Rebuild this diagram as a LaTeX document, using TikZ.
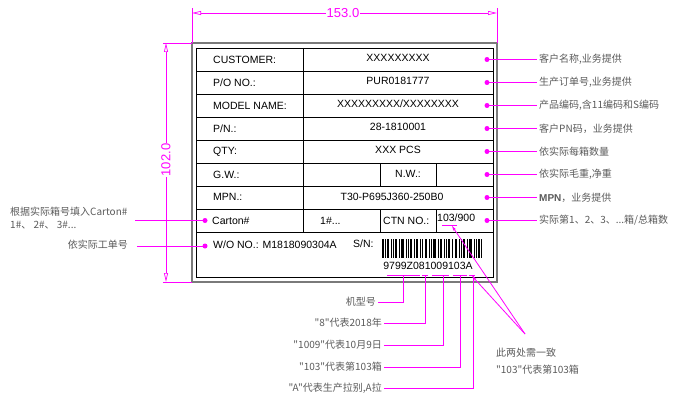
\documentclass[tikz,border=0pt]{standalone}
\usepackage{fontspec}
\setmainfont{Liberation Sans}
\newfontfamily\cjk{Noto Sans CJK SC}
\usetikzlibrary{arrows.meta,positioning}
\definecolor{mag}{HTML}{FF00FF}
\definecolor{notegray}{HTML}{5A5A5A}
\definecolor{framegray}{HTML}{7A7A7A}

\begin{document}
\begin{tikzpicture}[
  x=1pt, y=-1pt,
  celltxt/.style={font=\fontsize{10.5}{12}\selectfont, inner sep=0pt},
  note/.style={font=\cjk\fontsize{10}{12}\selectfont, text=notegray, inner sep=2pt},
  dot/.style={circle, fill=mag, inner sep=0pt, minimum size=5pt},
  lead/.style={draw=mag, line width=0.8pt},
  dimtip/.style={-{Triangle[open,length=9pt,width=4pt]}},
  dimtxt/.style={font=\fontsize{13}{14}\selectfont, text=mag, fill=white, inner sep=1pt},
]
\useasboundingbox (0,0) rectangle (682,401);

% label frame
\draw[framegray, line width=1.6pt] (192,43) rectangle (497,282);
\draw[black, line width=0.9pt] (196,48) rectangle (493,277);
\foreach \ry in {71,94,117,140,163,186,209,232}
  \draw[black, line width=0.7pt] (196,\ry) -- (493,\ry);
\draw[black, line width=0.7pt] (303,48) -- (303,232);
\foreach \cx in {380,436} {
  \draw[black, line width=0.7pt] (\cx,163) -- (\cx,186);
  \draw[black, line width=0.7pt] (\cx,209) -- (\cx,232);
}

% field names
\node[celltxt, anchor=west] (customer) at (213,59.5) {CUSTOMER:};
\node[celltxt, anchor=west] (po) at (213,82.5) {P/O NO.:};
\node[celltxt, anchor=west] (model) at (213,105.5) {MODEL NAME:};
\node[celltxt, anchor=west] (pn) at (213,128.5) {P/N.:};
\node[celltxt, anchor=west] (qty) at (213,151.5) {QTY:};
\node[celltxt, anchor=west] (gw) at (213,174.5) {G.W.:};
\node[celltxt, anchor=west] (mpn) at (213,197) {MPN.:};
\node[celltxt, anchor=west] (carton) at (212,220.5) {Carton\#};
\node[celltxt, anchor=west] (wo) at (213,245) {W/O NO.: M1818090304A};

% field values
\node[celltxt] (customerval) at (398,58) {XXXXXXXXX};
\node[celltxt] (poval) at (398,81) {PUR0181777};
\node[celltxt] (modelval) at (398,104) {XXXXXXXXX/XXXXXXXX};
\node[celltxt] (pnval) at (398,127) {28-1810001};
\node[celltxt] (qtyval) at (398,150) {XXX PCS};
\node[celltxt] (nw) at (408,174) {N.W.:};
\node[celltxt] (mpnval) at (392,197) {T30-P695J360-250B0};
\node[celltxt, anchor=west] (cartonval) at (320,220.5) {1\#...};
\node[celltxt, anchor=west] (ctn) at (383,220.5) {CTN NO.:};
\node[celltxt, anchor=west] (ctnval) at (437,218) {103/900};
\node[celltxt, anchor=west] (sn) at (353,244) {S/N:};

% barcode
\foreach \bx/\bw in {0/2,3/1,5/2,9/1,11/1,13/2,17/1,19/3,24/1,26/1,28/2,32/1,34/2,38/1,40/1,43/2,47/1,49/1,51/3,56/1,58/2,62/1,64/1,66/2,70/1,73/2,77/1,79/1,81/2,85/1,87/3,92/1,94/1,96/2,99/1}
  \fill[black] (382+\bx,239) rectangle ++(\bw,19);
\node[celltxt] (snval) at (428,265.5) {9799Z081009103A};

% dimensions
\draw[mag, line width=0.7pt] (192,43) -- (192,8);
\draw[mag, line width=0.7pt] (497,43) -- (497,8);
\coordinate (wleft) at (192,13);
\coordinate (wright) at (497,13);
\draw[mag, line width=0.7pt, dimtip] (343,13) -- (wleft);
\draw[mag, line width=0.7pt, dimtip] (343,13) -- (wright);
\node[dimtxt] (width) at (343,13) {153.0};

\draw[mag, line width=0.7pt] (192,43) -- (163,43);
\draw[mag, line width=0.7pt] (192,282) -- (163,282);
\coordinate (htop) at (166,43);
\coordinate (hbot) at (166,282);
\draw[mag, line width=0.7pt, dimtip] (166,160) -- (htop);
\draw[mag, line width=0.7pt, dimtip] (166,160) -- (hbot);
\node[dimtxt, rotate=90] (height) at (166,160) {102.0};

% notes on the right
\foreach \ny/\txt [count=\i] in {59.5/{客户名称,业务提供}, 82.5/{生产订单号,业务提供},
    105.5/{产品编码,含11编码和S编码}, 128.5/{客户PN码，业务提供}, 151.5/{依实际每箱数量},
    174.5/{依实际毛重,净重}, 197.5/{{\normalfont\bfseries MPN}，业务提供},
    220.5/{实际第1、2、3、...箱/总箱数}} {
  \node[dot] (rd\i) at (487,\ny) {};
  \node[note, anchor=west] (rn\i) at (537,\ny) {\txt};
  \draw[lead] (rd\i.center) -- (rn\i.west);
}

% notes on the left
\node[dot] (cd) at (205,220.5) {};
\node[note, anchor=west, align=left, font=\cjk\fontsize{10}{13}\selectfont] (cn) at (8,218.5) {根据实际箱号填入Carton\#\\1\#、 2\#、 3\#...};
\coordinate (cend) at (135,220.5);
\draw[lead] (cd.center) -- (cend);

\node[dot] (wd) at (205,246) {};
\node[note, anchor=east] (wn) at (130,245) {依实际工单号};
\coordinate (wend) at (137,246);
\draw[lead] (wd.center) -- (wend);

% serial number breakdown
\foreach \ua/\ub in {387/420, 422/428, 432/449, 453/467, 469/475}
  \draw[lead] (\ua,275) -- (\ub,275);
\foreach \lx/\ly/\ex/\txt [count=\i] in {403/302/378/{机型号}, 425/323/384/{"8"代表2018年},
    443/345/384/{"1009"代表10月9日}, 460/367/384/{"103"代表第103箱},
    473/388/384/{"A"代表生产拉别,A拉}} {
  \coordinate (u\i) at (\lx,275);
  \node[note, anchor=east] (bn\i) at (\ex,\ly) {\txt};
  \draw[lead] (u\i) |- (bn\i.east);
}

% the two 103 must agree
\draw[lead] (442,225) -- (457,225);
\coordinate (ctnu) at (452,226);
\coordinate (snu) at (472,276);
\coordinate (agree) at (525,334);
\draw[lead, -{Stealth[open,length=5pt,width=3pt]}] (agree) -- (ctnu);
\draw[lead, -{Stealth[open,length=5pt,width=3pt]}] (agree) -- (snu);
\node[note, anchor=west, align=left, font=\cjk\fontsize{10}{17}\selectfont] (an) at (494,361) {此两处需一致\\"103"代表第103箱};

\end{tikzpicture}
\end{document}
